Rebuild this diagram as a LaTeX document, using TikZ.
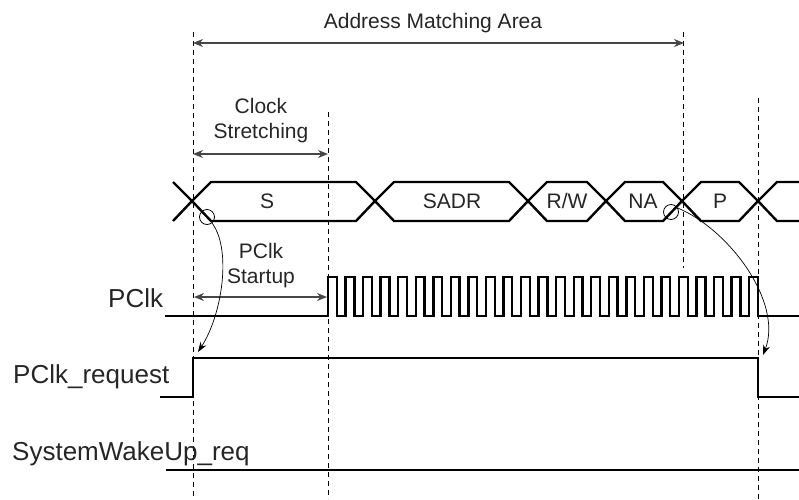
\documentclass[tikz,border=0pt]{standalone}
\usepackage{fontspec}
\setmainfont{Liberation Sans}
\usetikzlibrary{arrows.meta}
\tikzset{
  wave/.style   = {line width=2.4pt, line join=miter},
  guide/.style  = {line width=0.9pt, dash pattern=on 5pt off 4pt},
  span/.style   = {{Stealth[length=10pt, width=8pt]}-{Stealth[length=10pt, width=8pt]},
                   line width=1.5pt, black!72},
  hint/.style   = {-{Stealth[length=10pt, width=7pt]}, line width=0.7pt},
  ring/.style   = {circle, draw, line width=0.8pt, minimum size=15pt, inner sep=0pt},
  lab/.style    = {font=\fontsize{21}{25}\selectfont, text=black!85, inner sep=0pt,
                   align=center},
  siglab/.style = {font=\fontsize{26}{31}\selectfont, text=black!85, inner sep=0pt,
                   anchor=base west},
}

\begin{document}
\begin{tikzpicture}[x=1pt, y=-1pt]
  \useasboundingbox (0,0) rectangle (799,499);

  % dashed time marks
  \draw[guide] (193,32) -- (193,499);
  \draw[guide] (328,112) -- (328,499);
  \draw[guide] (683,32) -- (683,268);
  \draw[guide] (758,98) -- (758,499);

  % bus phases
  \draw[wave] (173,182) -- (192,201) -- (173,221);
  \foreach \a/\b in {192/375, 375/528, 528/606, 606/682, 682/758}
    \draw[wave] (\a,201) -- (\a+19,182) -- (\b-19,182) -- (\b,201)
          -- (\b-19,221) -- (\a+19,221) -- cycle;
  \draw[wave] (799,182) -- (777,182) -- (758,201) -- (777,221) -- (799,221);
  \node[lab, anchor=base] (phS)    at (267,208) {S};
  \node[lab, anchor=base] (phSADR) at (452,208) {SADR};
  \node[lab, anchor=base] (phRW)   at (567,208) {R/W};
  \node[lab, anchor=base] (phNA)   at (643,208) {NA};
  \node[lab, anchor=base] (phP)    at (720,208) {P};

  % signals
  \pgfmathsetmacro{\hw}{430/49}
  \draw[wave] (165,316) -- (328,316)
    \foreach \k in {0,...,24}{
      -- ({328+2*\k*\hw},277) -- ({328+(2*\k+1)*\hw},277)
      -- ({328+(2*\k+1)*\hw},316) -- ({328+(2*\k+2)*\hw},316)}
    -- (799,316);
  \draw[wave] (160,397) -- (193,397) -- (193,358) -- (758,358) -- (758,397)
        -- (799,397);
  \draw[wave] (166,470) -- (799,470);

  \node[siglab] (sPClk) at (108,307) {PClk};
  \node[siglab] (sReq)  at (13,383)  {PClk\_request};
  \node[siglab] (sWake) at (12,460)  {SystemWakeUp\_req};

  % spans
  \coordinate (amL) at (193,43);
  \coordinate (amR) at (684,43);
  \draw[span] (amL) -- (amR);
  \node[lab, anchor=base] (amText) at (433,28) {Address Matching Area};

  \coordinate (csL) at (193,154);
  \coordinate (csR) at (328,154);
  \draw[span] (csL) -- (csR);
  \node[lab] (csText) at (261,121) {Clock\\Stretching};

  \coordinate (psL) at (194,297);
  \coordinate (psR) at (327,297);
  \draw[span] (psL) -- (psR);
  \node[lab] (psText) at (261,266) {PClk\\Startup};

  % cause -> effect
  \node[ring] (ringS)  at (207,217) {};
  \node[ring] (ringNA) at (671,212) {};
  \coordinate (reqUp) at (198,352);
  \coordinate (reqDn) at (763,355);
  \draw[hint] (ringS.-50) .. controls (232,250) and (222,315) .. (reqUp);
  \draw[hint] (ringNA.30) .. controls (730,230) and (783,303) .. (reqDn);
\end{tikzpicture}
\end{document}
